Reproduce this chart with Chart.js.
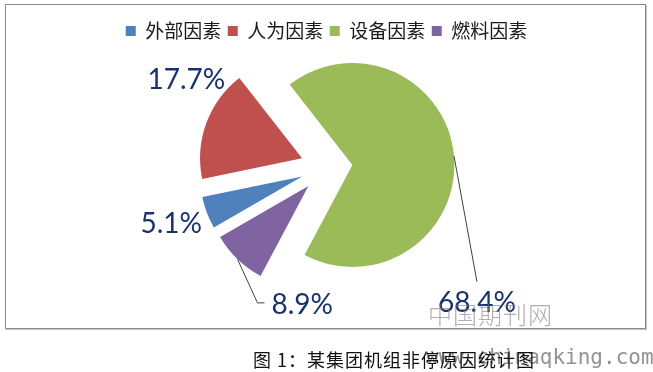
<!DOCTYPE html>
<html>
<head>
<meta charset="utf-8">
<script src="https://cdn.jsdelivr.net/npm/chart.js@4/dist/chart.umd.min.js"></script>
<style>
  body { margin: 0; background: #fff; width: 653px; height: 372px; overflow: hidden; position: relative; }
  #frame { position: absolute; left: 5px; top: 4px; width: 639px; height: 323px; border: 1px solid #8a8a8a; box-shadow: 1px 1px 0 #c4c4c4; }
  canvas { position: absolute; left: 0; top: 0; }
  .mark { position: absolute; white-space: nowrap; }
  #caption { left: 253px; top: 346px; font: 18px "Noto Sans CJK SC"; color: #111; letter-spacing: 1px; }
  #url { left: 426px; top: 345px; font: 21px "DejaVu Sans Mono"; color: rgba(110,110,110,0.75); }
  #wm { left: 428px; top: 296px; font: 24px "Noto Sans CJK SC"; font-weight: 300; color: rgba(130,130,130,0.65); letter-spacing: 1px; }
</style>
</head>
<body>
<div id="frame"></div>
<canvas id="pie" width="653" height="372"></canvas>
<div class="mark" id="wm">中国期刊网</div>
<div class="mark" id="url">www.chinaqking.com</div>
<div class="mark" id="caption">图 1：某集团机组非停原因统计图</div>
<script>
let categories = ["外部因素", "人为因素", "设备因素", "燃料因素"]
let shares = [5.1, 17.7, 68.4, 8.9]
let valueLabels = ["5.1%", "17.7%", "68.4%", "8.9%"]
let sliceColors = ["#4F81BD", "#C0504D", "#9BBB59", "#8064A2"]

let explode = 26 // px every slice is pulled out from the centre

// where each % label sits: angle clockwise from 12 o'clock, distance in radii
let labelPlace = [[250, 1.62], [302, 1.62], [132, 1.985], [190, 1.37]]
// which labels get a leader line
let leaders = [null, null, "top", "left"]

// chart.js v4 "offset" also grows the radius, so pull slices out by hand
let explodeSlices = {
  id: "explodeSlices",
  beforeDatasetDraw(chart, args) {
    let ctx = chart.ctx
    args.meta.data.forEach(arc => {
      let p = arc.getProps(["startAngle", "endAngle"], true)
      let mid = (p.startAngle + p.endAngle) / 2
      ctx.save()
      ctx.translate(Math.cos(mid) * explode, Math.sin(mid) * explode)
      arc.draw(ctx, chart.chartArea)
      ctx.restore()
    })
    return false
  }
}

let pctLabels = {
  id: "pctLabels",
  afterDatasetsDraw(chart) {
    let ctx = chart.ctx
    let meta = chart.getDatasetMeta(0)
    ctx.save()
    ctx.font = "28px Lato"
    ctx.textAlign = "center"
    ctx.textBaseline = "middle"
    meta.data.forEach((arc, i) => {
      let p = arc.getProps(["x", "y", "startAngle", "endAngle", "outerRadius"], true)
      let a = (labelPlace[i][0] - 90) * Math.PI / 180
      let lx = p.x + Math.cos(a) * p.outerRadius * labelPlace[i][1]
      let ly = p.y + Math.sin(a) * p.outerRadius * labelPlace[i][1]
      let tw = ctx.measureText(valueLabels[i]).width
      if (leaders[i]) {
        let mid = (p.startAngle + p.endAngle) / 2
        let sx = p.x + Math.cos(mid) * (explode + p.outerRadius)
        let sy = p.y + Math.sin(mid) * (explode + p.outerRadius)
        ctx.strokeStyle = "#404040"
        ctx.lineWidth = 1
        ctx.beginPath()
        ctx.moveTo(sx, sy)
        if (leaders[i] == "top") {
          ctx.lineTo(lx, ly - 21)
        } else {
          ctx.lineTo(lx - tw / 2 - 14, ly - 2)
          ctx.lineTo(lx - tw / 2 - 7, ly - 2)
        }
        ctx.stroke()
      }
      ctx.fillStyle = "#17336b"
      ctx.fillText(valueLabels[i], lx, ly)
    })
    ctx.restore()
  }
}

new Chart(document.getElementById("pie"), {
  type: "pie",
  data: {
    labels: categories,
    datasets: [{
      data: shares,
      backgroundColor: sliceColors,
      borderWidth: 0
    }]
  },
  options: {
    responsive: false,
    animation: false,
    devicePixelRatio: 1,
    rotation: 240,
    radius: 102,
    layout: { padding: { top: 15, left: 10, right: 10, bottom: 88 } },
    plugins: {
      legend: {
        position: "top",
        labels: {
          boxWidth: 10,
          boxHeight: 10,
          padding: 6.5,
          color: "#1a1a1a",
          font: { family: "'Noto Sans CJK SC'", size: 19 }
        }
      },
      tooltip: { enabled: false }
    }
  },
  plugins: [explodeSlices, pctLabels]
})
</script>
</body>
</html>
